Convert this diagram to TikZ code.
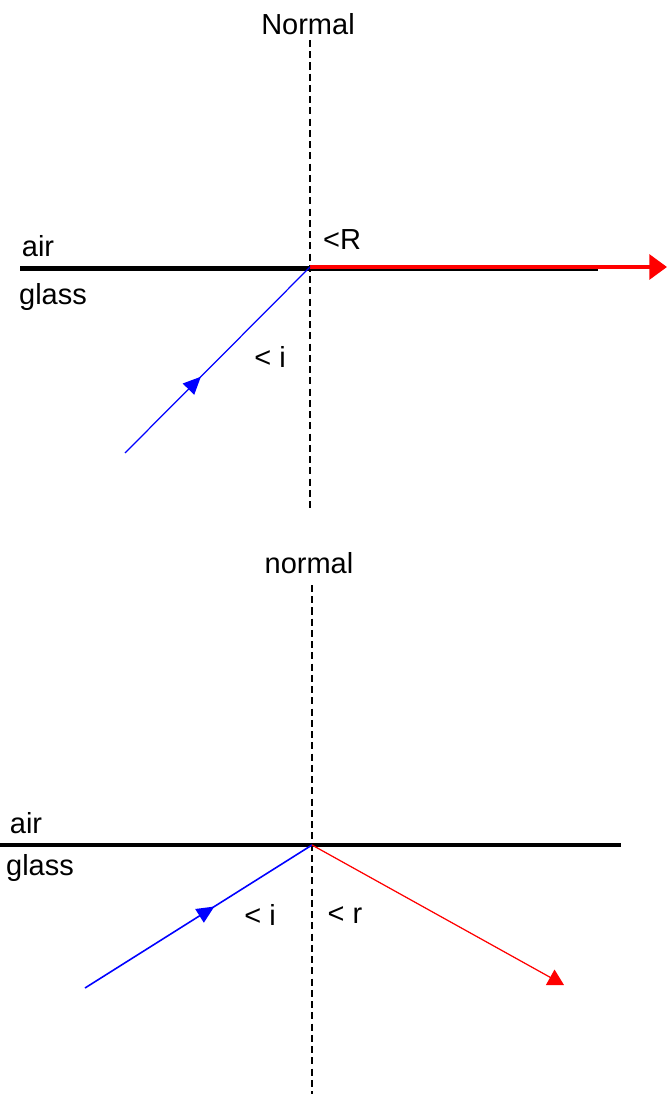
\documentclass[tikz,border=0pt]{standalone}
\usepackage{fontspec}
\setmainfont{Liberation Sans}
\usetikzlibrary{arrows.meta,decorations.markings}

\begin{document}
\begin{tikzpicture}[x=0.02cm, y=-0.02cm,
    lbl/.style={inner sep=0pt, font=\fontsize{16.5}{20}\selectfont},
    normalline/.style={line width=0.8pt, dash pattern=on 4pt off 2.4pt},
    surface/.style={line width=2.8pt},
    midarrow/.style={postaction={decorate}, decoration={markings,
        mark=at position #1 with {\arrow{Triangle[length=10pt,width=9pt]}}}}
]
    \useasboundingbox (0,0) rectangle (667,1094);

    % Top diagram
    \node[lbl] (normalA) at (308,24) {Normal};
    \coordinate (topN) at (310,40);
    \coordinate (topS) at (310,512);
    \coordinate (topO) at (310,267);
    \coordinate (topL) at (20,268.5);
    \coordinate (topR) at (598,268.5);
    \coordinate (topEnd) at (667,267);
    \coordinate (topIn) at (125,453);
    \draw[normalline] (topN) -- (topS);
    \draw[surface] (topL) -- (topR);
    \draw[red, line width=2.2pt, -{Triangle[length=10pt,width=14pt]}] (topO) -- (topEnd);
    \draw[blue, line width=0.7pt, midarrow=0.41] (topIn) -- (topO);
    \node[lbl] (airA) at (38,246) {air};
    \node[lbl] (glassA) at (53,297) {glass};
    \node[lbl] (angR) at (342,240) {<R};
    \node[lbl] (angiA) at (270,357) {< i};

    % Bottom diagram
    \node[lbl] (normalB) at (309,563) {normal};
    \coordinate (botN) at (312,585);
    \coordinate (botS) at (312,1094);
    \coordinate (botO) at (312,845);
    \coordinate (botL) at (0,845);
    \coordinate (botR) at (621,845);
    \coordinate (botIn) at (85,988);
    \coordinate (botOut) at (564,985);
    \draw[normalline] (botN) -- (botS);
    \draw[surface] (botL) -- (botR);
    \draw[blue, line width=0.9pt, midarrow=0.57] (botIn) -- (botO);
    \draw[red, line width=0.7pt, -{Triangle[length=9pt,width=10pt]}] (botO) -- (botOut);
    \node[lbl] (airB) at (26,823) {air};
    \node[lbl] (glassB) at (40,868) {glass};
    \node[lbl] (angiB) at (260,915) {< i};
    \node[lbl] (angr) at (345,915) {< r};
\end{tikzpicture}
\end{document}
